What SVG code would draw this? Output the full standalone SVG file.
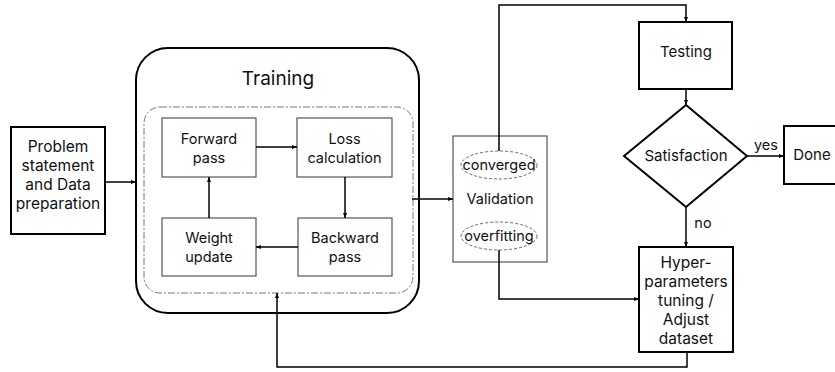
<svg xmlns="http://www.w3.org/2000/svg" width="835" height="372" viewBox="0 0 835 372">
<defs>
<marker id="ah" viewBox="0 0 10 10" refX="10" refY="5" markerWidth="5" markerHeight="5" orient="auto" markerUnits="userSpaceOnUse">
<path d="M0,1 L10,5 L0,9 Z" fill="#000"/>
</marker>
<style>
text{font-family:Inter,"Liberation Sans",sans-serif;fill:#111;text-anchor:middle;}
.t{font-size:15px;}
.p{font-size:15.5px;}
.s{font-size:14.5px;}
.big{font-size:19px;}
.outer{fill:#fff;stroke:#000;stroke-width:2;}
.inner{fill:#fff;stroke:#555;stroke-width:1.2;}
.dash{fill:none;stroke:#777;stroke-width:1;stroke-dasharray:7 2 2 2;}
.ell{fill:#fff;stroke:#666;stroke-width:1;stroke-dasharray:3 2;}
.ca{fill:none;stroke:#000;stroke-width:1.5;marker-end:url(#ah);}
</style>
</defs>
<rect width="835" height="372" fill="#fff"/>

<g id="problem">
<rect class="outer" x="11" y="127" width="94" height="107"/>
<text class="p" x="58" y="152">Problem</text>
<text class="p" x="58" y="171">statement</text>
<text class="p" x="58" y="190">and Data</text>
<text class="p" x="58" y="209">preparation</text>
</g>

<g id="training">
<rect class="outer" x="136" y="48" width="283" height="265" rx="32" ry="32"/>
<text class="big" x="278" y="85">Training</text>
<rect class="dash" x="144" y="107" width="269" height="186" rx="16" ry="16"/>
</g>

<g id="forward">
<rect class="inner" x="162" y="118" width="94" height="59"/>
<text class="s" x="209" y="144">Forward</text>
<text class="s" x="209" y="163">pass</text>
</g>
<g id="loss">
<rect class="inner" x="297" y="118" width="95" height="59"/>
<text class="s" x="344.5" y="144">Loss</text>
<text class="s" x="344.5" y="163">calculation</text>
</g>
<g id="weight">
<rect class="inner" x="162" y="218" width="94" height="58"/>
<text class="s" x="209" y="243">Weight</text>
<text class="s" x="209" y="262">update</text>
</g>
<g id="backward">
<rect class="inner" x="298" y="218" width="94" height="58"/>
<text class="s" x="345" y="243">Backward</text>
<text class="s" x="345" y="262">pass</text>
</g>

<g id="validation">
<rect class="inner" x="453" y="136" width="94" height="126"/>
<ellipse class="ell" cx="499" cy="165" rx="38" ry="14"/>
<text class="s" x="499" y="170">converged</text>
<text class="s" x="500" y="204">Validation</text>
<ellipse class="ell" cx="499" cy="236" rx="38" ry="14"/>
<text class="s" x="499" y="241">overfitting</text>
</g>

<g id="testing">
<rect class="outer" x="639" y="22" width="93" height="67"/>
<text class="t" x="686" y="57">Testing</text>
</g>

<g id="satisfaction">
<polygon class="outer" points="686,105 747,156 686,207 624,156"/>
<text class="t" x="686" y="161">Satisfaction</text>
</g>

<g id="done">
<rect class="outer" x="784" y="126" width="60" height="58"/>
<text class="t" x="812" y="160">Done</text>
</g>

<g id="hyper">
<rect class="outer" x="639" y="247" width="94" height="105"/>
<text class="p" x="686" y="268">Hyper-</text>
<text class="p" x="686" y="287">parameters</text>
<text class="p" x="686" y="306">tuning /</text>
<text class="p" x="686" y="325">Adjust</text>
<text class="p" x="686" y="344">dataset</text>
</g>

<g id="connectors">
<path class="ca" d="M105,182 H136"/>
<path class="ca" d="M256,147 H297"/>
<path class="ca" d="M345,177 V218"/>
<path class="ca" d="M298,247 H256"/>
<path class="ca" d="M209,218 V177"/>
<path class="ca" d="M412,199 H453"/>
<path class="ca" d="M499,151 V5 H686 V22"/>
<path class="ca" d="M686,89 V105"/>
<path class="ca" d="M747,156 H784"/>
<path class="ca" d="M686,207 V247"/>
<path class="ca" d="M499,250 V299 H639"/>
<path class="ca" d="M687,352 V367 H277 V293"/>
<text class="s" x="766" y="150">yes</text>
<text class="s" x="703" y="228">no</text>
</g>
</svg>
